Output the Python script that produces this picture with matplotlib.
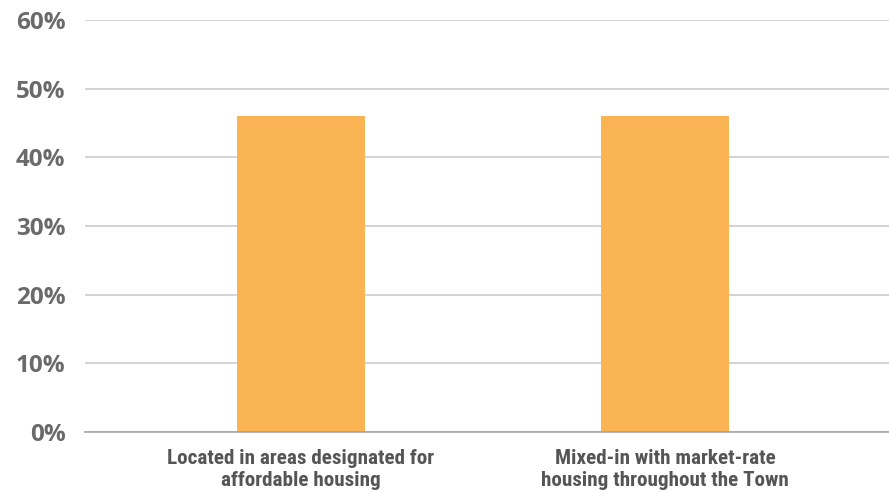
import matplotlib.pyplot as plt
from matplotlib.ticker import FuncFormatter

categories = ["Located in areas designated for\naffordable housing",
              "Mixed-in with market-rate\nhousing throughout the Town"]
values = [46, 46]
yticks = [0, 10, 20, 30, 40, 50, 60]

fig = plt.figure(figsize=(8.89, 4.92), dpi=100)
ax = fig.add_axes([85 / 889, 1 - 432 / 492, 1 - 85 / 889, (432 - 20) / 492])

ax.bar(range(len(categories)), values, width=0.35, color="#fbb454", zorder=3)

ax.set_ylim(0, 60)
ax.set_xlim(-0.593, 1.615)
ax.set_yticks(yticks)
ax.yaxis.set_major_formatter(FuncFormatter(lambda v, p: f"{v:.0f}%"))
ax.grid(axis="y", color="#c8c8c8", linewidth=1.1, zorder=0)
ax.set_xticks(range(len(categories)))
ax.set_xticklabels(categories, fontfamily=["Roboto Condensed", "DejaVu Sans"],
                   fontstretch="condensed", fontweight="bold", fontsize=15.2,
                   color="#555555", linespacing=1.2)

for lab in ax.get_yticklabels():
    lab.set_fontfamily(["Open Sans", "DejaVu Sans"])
    lab.set_fontweight("bold")
    lab.set_fontsize(17.5)
    lab.set_color("#6a6a6a")

ax.tick_params(axis="both", length=0)
ax.tick_params(axis="y", pad=14)
ax.tick_params(axis="x", pad=12)
for s in ["top", "right", "left"]:
    ax.spines[s].set_visible(False)
ax.spines["bottom"].set_color("#a0a0a0")
ax.spines["bottom"].set_linewidth(1.1)
ax.spines["bottom"].set_zorder(4)

fig.savefig("out.png", dpi=100)
